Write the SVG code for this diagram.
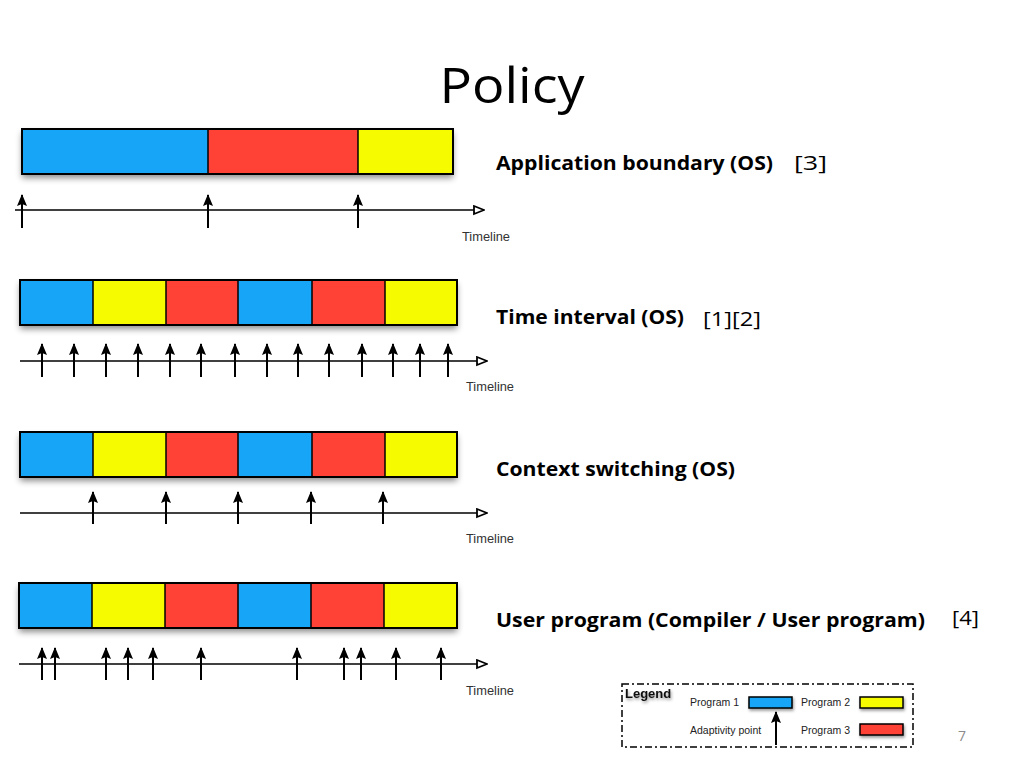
<svg xmlns="http://www.w3.org/2000/svg" width="1024" height="768" viewBox="0 0 1024 768">
<defs>
  <filter id="sh" x="-5%" y="-20%" width="110%" height="160%">
    <feDropShadow dx="0" dy="4" stdDeviation="3" flood-color="#000" flood-opacity="0.45"/>
  </filter>
  <filter id="sh2" x="-20%" y="-30%" width="140%" height="200%">
    <feDropShadow dx="1" dy="2" stdDeviation="1.5" flood-color="#000" flood-opacity="0.4"/>
  </filter>
  <marker id="ah" markerUnits="userSpaceOnUse" markerWidth="13" markerHeight="11" refX="11" refY="5" orient="auto">
    <path d="M0,0 L12,5 L0,10 L2,5 Z" fill="#000"/>
  </marker>
  <marker id="tl" markerUnits="userSpaceOnUse" markerWidth="12" markerHeight="12" refX="11" refY="5" orient="auto">
    <path d="M1,1 L11,5 L1,9 Z" fill="#fff" stroke="#000" stroke-width="1.8"/>
  </marker>
</defs>
<style>
  .p1{fill:#19a5f7}
  .p2{fill:#f6fb00}
  .p3{fill:#ff4236}
  .bar{stroke:#000;stroke-width:2}
  .seg{stroke:#000;stroke-width:1.5}
  .ap{stroke:#000;stroke-width:2;marker-end:url(#ah)}
  .tline{stroke:#000;stroke-width:1.6;marker-end:url(#tl)}
  .tltext{font-family:"Liberation Sans",Arial,sans-serif;font-size:12px;fill:#333}
  .lbl{font-family:"Open Sans","Liberation Sans",sans-serif;font-weight:bold;font-size:20px;fill:#000}
  .ref{font-family:"Open Sans","Liberation Sans",sans-serif;font-size:20px;fill:#000}
  .lg{font-family:"Liberation Sans",Arial,sans-serif;font-size:10.5px;fill:#222}
</style>
<rect width="1024" height="768" fill="#fff"/>
<text x="512" y="103" text-anchor="middle" font-family="'Open Sans','Liberation Sans',sans-serif" font-size="50" fill="#000" textLength="145" lengthAdjust="spacingAndGlyphs">Policy</text>

<!-- Row 1 -->
<g id="row1">
  <g filter="url(#sh)">
    <rect x="22" y="129" width="186" height="45" class="p1"/>
    <rect x="208" y="129" width="150" height="45" class="p3"/>
    <rect x="358" y="129" width="95" height="45" class="p2"/>
  </g>
  <rect x="22" y="129" width="431" height="45" fill="none" class="bar"/>
  <line x1="208" y1="129" x2="208" y2="174" class="seg"/>
  <line x1="358" y1="129" x2="358" y2="174" class="seg"/>
  <text x="496" y="170" class="lbl" textLength="277" lengthAdjust="spacingAndGlyphs">Application boundary (OS)</text>
  <text x="794" y="170" class="ref" textLength="33" lengthAdjust="spacingAndGlyphs">[3]</text>
  <text x="462" y="241" class="tltext" textLength="48" lengthAdjust="spacingAndGlyphs">Timeline</text>
</g>

<!-- Row 2 -->
<g id="row2">
  <g filter="url(#sh)">
    <rect x="20" y="280" width="73" height="45" class="p1"/>
    <rect x="93" y="280" width="73" height="45" class="p2"/>
    <rect x="166" y="280" width="72" height="45" class="p3"/>
    <rect x="238" y="280" width="74" height="45" class="p1"/>
    <rect x="312" y="280" width="73" height="45" class="p3"/>
    <rect x="385" y="280" width="72" height="45" class="p2"/>
  </g>
  <rect x="20" y="280" width="437" height="45" fill="none" class="bar"/>
  <path d="M93,280V325M166,280V325M238,280V325M312,280V325M385,280V325" class="seg" fill="none"/>
  <text x="496" y="324" class="lbl" textLength="188" lengthAdjust="spacingAndGlyphs">Time interval (OS)</text>
  <text x="703" y="326" class="ref" textLength="58" lengthAdjust="spacingAndGlyphs">[1][2]</text>
  <text x="466" y="391" class="tltext" textLength="48" lengthAdjust="spacingAndGlyphs">Timeline</text>
</g>

<!-- Row 3 -->
<g id="row3">
  <g filter="url(#sh)">
    <rect x="20" y="432" width="73" height="45" class="p1"/>
    <rect x="93" y="432" width="73" height="45" class="p2"/>
    <rect x="166" y="432" width="72" height="45" class="p3"/>
    <rect x="238" y="432" width="74" height="45" class="p1"/>
    <rect x="312" y="432" width="73" height="45" class="p3"/>
    <rect x="385" y="432" width="72" height="45" class="p2"/>
  </g>
  <rect x="20" y="432" width="437" height="45" fill="none" class="bar"/>
  <path d="M93,432V477M166,432V477M238,432V477M312,432V477M385,432V477" class="seg" fill="none"/>
  <text x="496" y="476" class="lbl" textLength="239" lengthAdjust="spacingAndGlyphs">Context switching (OS)</text>
  <text x="466" y="543" class="tltext" textLength="48" lengthAdjust="spacingAndGlyphs">Timeline</text>
</g>

<!-- Row 4 -->
<g id="row4">
  <g filter="url(#sh)">
    <rect x="19" y="583" width="73" height="45" class="p1"/>
    <rect x="92" y="583" width="73" height="45" class="p2"/>
    <rect x="165" y="583" width="73" height="45" class="p3"/>
    <rect x="238" y="583" width="73" height="45" class="p1"/>
    <rect x="311" y="583" width="73" height="45" class="p3"/>
    <rect x="384" y="583" width="73" height="45" class="p2"/>
  </g>
  <rect x="19" y="583" width="438" height="45" fill="none" class="bar"/>
  <path d="M92,583V628M165,583V628M238,583V628M311,583V628M384,583V628" class="seg" fill="none"/>
  <text x="496" y="627" class="lbl" textLength="429" lengthAdjust="spacingAndGlyphs">User program (Compiler / User program)</text>
  <text x="952" y="625" class="ref" textLength="27" lengthAdjust="spacingAndGlyphs">[4]</text>
  <text x="466" y="695" class="tltext" textLength="48" lengthAdjust="spacingAndGlyphs">Timeline</text>
</g>

<!-- Connectors: timelines and adaptivity points -->
<g id="connectors">
  <line x1="15" y1="210" x2="484" y2="210" class="tline"/>
  <line x1="22" y1="228" x2="22" y2="195" class="ap"/>
  <line x1="208" y1="228" x2="208" y2="195" class="ap"/>
  <line x1="358" y1="228" x2="358" y2="195" class="ap"/>

  <line x1="20" y1="361" x2="487" y2="361" class="tline"/>
  <g>
    <line x1="42" y1="377" x2="42" y2="344" class="ap"/>
    <line x1="74" y1="377" x2="74" y2="344" class="ap"/>
    <line x1="106" y1="377" x2="106" y2="344" class="ap"/>
    <line x1="138" y1="377" x2="138" y2="344" class="ap"/>
    <line x1="170" y1="377" x2="170" y2="344" class="ap"/>
    <line x1="201" y1="377" x2="201" y2="344" class="ap"/>
    <line x1="235" y1="377" x2="235" y2="344" class="ap"/>
    <line x1="267" y1="377" x2="267" y2="344" class="ap"/>
    <line x1="298" y1="377" x2="298" y2="344" class="ap"/>
    <line x1="329" y1="377" x2="329" y2="344" class="ap"/>
    <line x1="362" y1="377" x2="362" y2="344" class="ap"/>
    <line x1="393" y1="377" x2="393" y2="344" class="ap"/>
    <line x1="420" y1="377" x2="420" y2="344" class="ap"/>
    <line x1="448" y1="377" x2="448" y2="344" class="ap"/>
  </g>

  <line x1="20" y1="513" x2="487" y2="513" class="tline"/>
  <line x1="93" y1="524" x2="93" y2="492" class="ap"/>
  <line x1="166" y1="524" x2="166" y2="492" class="ap"/>
  <line x1="238" y1="524" x2="238" y2="492" class="ap"/>
  <line x1="311" y1="524" x2="311" y2="492" class="ap"/>
  <line x1="383" y1="524" x2="383" y2="492" class="ap"/>

  <line x1="19" y1="664" x2="487" y2="664" class="tline"/>
  <line x1="42" y1="680" x2="42" y2="648" class="ap"/>
  <line x1="55" y1="680" x2="55" y2="648" class="ap"/>
  <line x1="106" y1="680" x2="106" y2="648" class="ap"/>
  <line x1="128" y1="680" x2="128" y2="648" class="ap"/>
  <line x1="153" y1="680" x2="153" y2="648" class="ap"/>
  <line x1="201" y1="680" x2="201" y2="648" class="ap"/>
  <line x1="297" y1="680" x2="297" y2="648" class="ap"/>
  <line x1="344" y1="680" x2="344" y2="648" class="ap"/>
  <line x1="361" y1="680" x2="361" y2="648" class="ap"/>
  <line x1="396" y1="680" x2="396" y2="648" class="ap"/>
  <line x1="441" y1="680" x2="441" y2="648" class="ap"/>
</g>

<!-- Legend -->
<g id="legend">
  <rect x="622" y="684" width="291" height="63" fill="none" stroke="#000" stroke-width="1.5" stroke-dasharray="7,3,2,3"/>
  <text x="625" y="698" font-family="'Liberation Sans',Arial,sans-serif" font-weight="bold" font-size="13" fill="#111" filter="url(#sh2)">Legend</text>
  <text x="690" y="706" class="lg">Program 1</text>
  <rect x="749" y="697" width="43" height="11" class="p1" stroke="#000" stroke-width="1.5" filter="url(#sh2)"/>
  <text x="801" y="706" class="lg">Program 2</text>
  <rect x="860" y="697" width="43" height="11" class="p2" stroke="#000" stroke-width="1.5" filter="url(#sh2)"/>
  <text x="690" y="734" class="lg">Adaptivity point</text>
  <line x1="776" y1="745" x2="776" y2="712" class="ap"/>
  <text x="801" y="734" class="lg">Program 3</text>
  <rect x="860" y="724" width="43" height="11" class="p3" stroke="#000" stroke-width="1.5" filter="url(#sh2)"/>
</g>

<text x="958" y="741" font-family="'Open Sans','Liberation Sans',sans-serif" font-size="14" fill="#8c8c8c">7</text>
</svg>
